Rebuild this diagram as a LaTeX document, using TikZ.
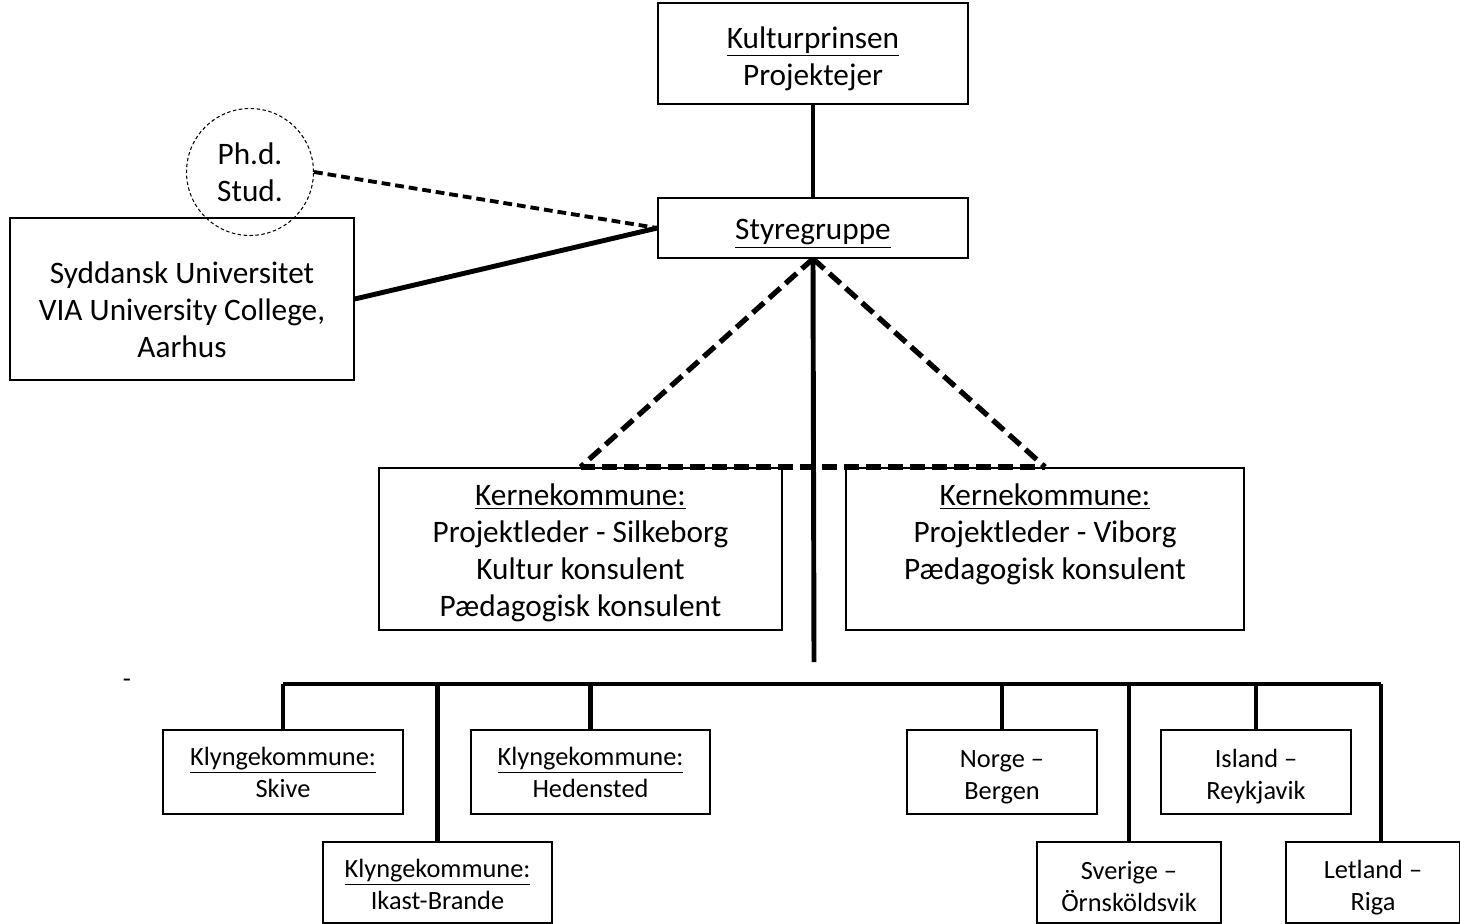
\documentclass[tikz,border=0pt]{standalone}
\usepackage{fontspec}
\setmainfont{Carlito}
\usetikzlibrary{positioning,calc}
\newcommand{\topgap}[1]{\rule{0pt}{#1}}

\begin{document}
\begin{tikzpicture}[
    x=0.02cm, y=-0.02cm,
    box/.style={rectangle, draw, line width=0.9pt, align=center, inner sep=2pt},
    bigtext/.style={font=\fontsize{17.8}{21}\selectfont},
    smalltext/.style={font=\fontsize{15}{18.2}\selectfont},
    phdcircle/.style={circle, draw, line width=0.6pt, dash pattern=on 2pt off 1.4pt, minimum size=2.54cm, align=center, inner sep=0pt},
    tie/.style={line width=2.8pt},
    dashtie/.style={line width=3pt, dash pattern=on 8.5pt off 4pt},
    phdtie/.style={line width=2.2pt, dash pattern=on 5pt off 2.8pt}
]
\useasboundingbox (0,0) rectangle (1460,923);

% Top of the organisation
\node [box, bigtext, minimum width=6.2cm, minimum height=2.02cm] (kultur) at (813,53.5) {\topgap{18pt}\underline{Kulturprinsen}\\Projektejer};
\node [box, bigtext, minimum width=6.2cm, minimum height=1.2cm] (styre) at (813,228) {\topgap{18pt}\underline{Styregruppe}};
\node [phdcircle, bigtext] (phd) at (250,172) {Ph.d.\\Stud.};
\node [box, bigtext, minimum width=6.88cm, minimum height=3.24cm] (sdu) at (182,299) {\topgap{25pt}Syddansk Universitet\\VIA University College,\\Aarhus};

% Core municipalities
\node [box, bigtext, minimum width=8.06cm, minimum height=3.24cm, anchor=north] (kerneL) at (580.5,467) {\topgap{17pt}\underline{Kernekommune:}\\Projektleder - Silkeborg\\Kultur konsulent\\Pædagogisk konsulent};
\node [box, bigtext, minimum width=7.96cm, minimum height=3.24cm, anchor=north] (kerneR) at (1045,467) {\topgap{17pt}\underline{Kernekommune:}\\Projektleder - Viborg\\Pædagogisk konsulent\\\phantom{Pdg}};

% Cluster municipalities and partners abroad
\node [box, smalltext, minimum width=4.8cm, minimum height=1.68cm] (skive) at (283,772) {\underline{Klyngekommune:}\\Skive};
\node [box, smalltext, minimum width=4.78cm, minimum height=1.68cm] (heden) at (590.5,772) {\underline{Klyngekommune:}\\Hedensted};
\node [box, smalltext, minimum width=4.58cm, minimum height=1.62cm] (ikast) at (437.5,882.5) {\topgap{13pt}\underline{Klyngekommune:}\\Ikast-Brande};
\node [box, smalltext, minimum width=3.8cm, minimum height=1.68cm] (norge) at (1002,772) {\topgap{16pt}Norge --\\Bergen};
\node [box, smalltext, minimum width=3.8cm, minimum height=1.68cm] (island) at (1256,772) {\topgap{16pt}Island --\\Reykjavik};
\node [box, smalltext, minimum width=3.68cm, minimum height=1.62cm] (sverige) at (1129,882.5) {\topgap{15pt}Sverige --\\Örnsköldsvik};
\node [box, smalltext, minimum width=3.48cm, minimum height=1.62cm] (letland) at (1373,882.5) {\topgap{16pt}Letland --\\Riga};
\node [smalltext, inner sep=0pt] (dash) at (127,683) {-};

% Bus coordinates
\coordinate (stem) at (814,662);
\coordinate (busL) at (283,684);
\coordinate (busR) at (1381,684);

% Connectors
\draw [tie] (kultur) -- (styre);
\draw [phdtie] (phd.east) -- (styre.west);
\draw [tie] (sdu.east) -- (styre.west);
\draw [dashtie] (styre.south) -- (kerneL.north);
\draw [dashtie] (styre.south) -- (kerneR.north);
\draw [dashtie] (kerneL.north) -- (kerneR.north);
\draw [tie] (styre.south) -- (stem);
\draw [tie] (busL) -- (busR);
\draw [tie] (busL) -- (skive.north);
\draw [tie] (ikast.north |- busL) -- (ikast.north);
\draw [tie] (heden.north |- busL) -- (heden.north);
\draw [tie] (norge.north |- busL) -- (norge.north);
\draw [tie] (sverige.north |- busL) -- (sverige.north);
\draw [tie] (island.north |- busL) -- (island.north);
\draw [tie] (busR) -- (busR |- letland.north);

\end{tikzpicture}
\end{document}
